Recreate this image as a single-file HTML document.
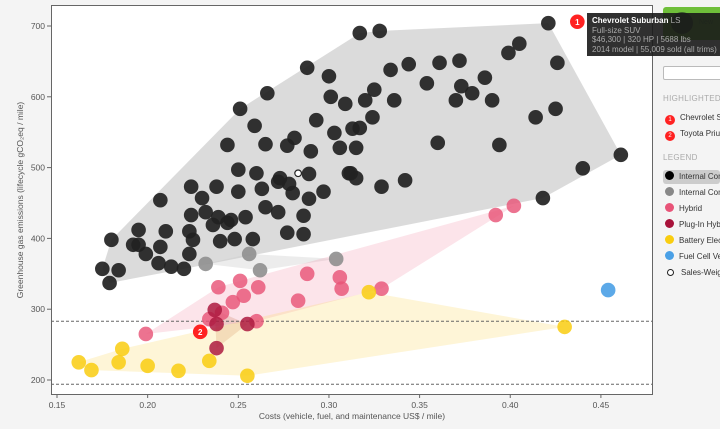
<!DOCTYPE html>
<html><head><meta charset="utf-8"><style>
body{margin:0;background:#f4f4f4;width:720px;height:429px;overflow:hidden;font-family:"Liberation Sans",sans-serif;position:relative}
.hd{position:absolute;left:663px;font-size:8px;color:#aaa;letter-spacing:.3px;white-space:nowrap;overflow:hidden;width:57px}
.li{position:absolute;left:663px;width:57px;height:14px;font-size:8px;color:#333;line-height:14px;white-space:nowrap;overflow:hidden}
.li i{display:inline-block;width:9px;height:9px;border-radius:50%;vertical-align:-1px;margin:0 5px 0 2px}
</style></head><body>
<svg id="chart" width="720" height="429" style="position:absolute;left:0;top:0"></svg>

<div style="position:absolute;left:663px;top:7px;width:60px;height:33px;background:#6fbf3a;border-radius:3px 0 0 3px"><div style="position:absolute;left:8px;top:5px;width:22px;height:22px;border-radius:50%;background:#3a5f2a"></div><span style="position:absolute;left:36px;top:12px;font-size:7px;color:#4d8a30">New</span></div>
<div style="position:absolute;left:663px;top:66px;width:60px;height:12px;background:#fff;border:1px solid #bbb;border-radius:2px"></div>
<div class="hd" style="top:94px">HIGHLIGHTED C</div>
<div class="li" style="top:111px"><i style="background:#f22;width:10px;height:10px;color:#fff;font-size:6px;text-align:center;line-height:10px;font-style:normal">1</i>Chevrolet Suburban</div>
<div class="li" style="top:127px"><i style="background:#f22;width:10px;height:10px;color:#fff;font-size:6px;text-align:center;line-height:10px;font-style:normal">2</i>Toyota Prius</div>
<div class="hd" style="top:153px">LEGEND</div>
<div class="li" style="top:170px;background:#ccc;border-radius:3px"><i style="background:#000"></i>Internal Combustion</div>
<div class="li" style="top:186px"><i style="background:#888"></i>Internal Combustion</div>
<div class="li" style="top:202px"><i style="background:#e85478"></i>Hybrid</div>
<div class="li" style="top:218px"><i style="background:#a8123a"></i>Plug-In Hybrid</div>
<div class="li" style="top:234px"><i style="background:#f9cd10"></i>Battery Electric</div>
<div class="li" style="top:250px"><i style="background:#4aa0e6"></i>Fuel Cell Vehicle</div>
<div class="li" style="top:266px"><i style="background:#fff;border:1.5px solid #222;width:5px;height:5px;margin-left:4px;margin-right:7px"></i>Sales-Weighted</div>

<div style="position:absolute;left:587px;top:13px;width:140px;height:43px;background:rgba(25,25,25,.9);font-size:8px;line-height:9.5px;color:#aaa;padding:3px 0 0 5px;box-sizing:border-box;white-space:nowrap">
<div><b style="color:#fff">Chevrolet Suburban</b> LS</div><div>Full-size SUV</div><div>$46,300 | 320 HP | 5688 lbs</div><div>2014 model | 55,009 sold (all trims)</div></div>

<script>
const xTicks=[0.15,0.20,0.25,0.30,0.35,0.40,0.45];
const yTicks=[200,300,400,500,600,700];
const refLines=[283,194];
const iceX=[0.250,0.260,0.273,0.272,0.278,0.280,0.289,0.311,0.224,0.238,0.230,0.250,0.263,0.207,0.289,0.297,0.265,0.272,0.286,0.224,0.232,0.239,0.236,0.244,0.246,0.254,0.195,0.210,0.223,0.225,0.240,0.248,0.258,0.277,0.286,0.180,0.192,0.195,0.207,0.199,0.223,0.206,0.213,0.220,0.175,0.184,0.179,0.317,0.328,0.288,0.300,0.334,0.344,0.361,0.372,0.266,0.301,0.309,0.320,0.325,0.336,0.354,0.373,0.370,0.379,0.386,0.390,0.251,0.259,0.293,0.324,0.303,0.313,0.317,0.244,0.265,0.281,0.277,0.290,0.306,0.315,0.360,0.312,0.315,0.342,0.421,0.405,0.399,0.426,0.414,0.425,0.394,0.461,0.440,0.418,0.329];
const iceY=[497,492,485,480,477,464,491,492,473,473,457,466,470,454,456,466,444,437,432,433,437,430,419,422,426,430,412,410,410,398,396,399,399,408,406,398,391,391,388,378,378,365,360,357,357,355,337,690,693,641,629,638,646,648,651,605,600,590,595,610,595,619,615,595,605,627,595,583,559,567,571,549,555,556,532,533,542,531,523,528,528,535,492,485,482,704,675,662,648,571,583,532,518,499,457,473];
const grayX=[0.232,0.256,0.262,0.304];
const grayY=[364,378,355,371];
const hybX=[0.239,0.251,0.261,0.253,0.247,0.241,0.234,0.260,0.283,0.288,0.199,0.306,0.307,0.329,0.392,0.402];
const hybY=[331,340,331,319,310,295,286,283,312,350,265,345,329,329,433,446];
const phevX=[0.237,0.238,0.255,0.238];
const phevY=[299,279,279,245];
const bevX=[0.162,0.169,0.186,0.184,0.200,0.217,0.234,0.255,0.322,0.430];
const bevY=[225,214,244,225,220,213,227,206,324,275];
const fcvX=[0.454];
const fcvY=[327];
const hlX=[0.437,0.229];
const hlY=[706,268];
const hlLabels=["1","2"];
const swX=[0.283];
const swY=[492];

const L=51,R=652,T=5,B=394;
const sx=v=>57+(v-0.15)*1813;
const sy=v=>380-(v-200)*0.708;
const NS="http://www.w3.org/2000/svg";
const svg=document.getElementById('chart');
function mk(t,a,p){const e=document.createElementNS(NS,t);for(const k in a)e.setAttribute(k,a[k]);(p||svg).appendChild(e);return e;}
const bg=mk('rect',{x:L,y:T,width:R-L,height:B-T,fill:'#fff'});


function hull(xs,ys){let p=xs.map((x,i)=>[sx(x),sy(ys[i])]).sort((a,b)=>a[0]-b[0]||a[1]-b[1]);
const cr=(o,a,b)=>(a[0]-o[0])*(b[1]-o[1])-(a[1]-o[1])*(b[0]-o[0]);
const lo=[],up=[];for(const q of p){while(lo.length>1&&cr(lo[lo.length-2],lo[lo.length-1],q)<=0)lo.pop();lo.push(q);}
for(const q of p.slice().reverse()){while(up.length>1&&cr(up[up.length-2],up[up.length-1],q)<=0)up.pop();up.push(q);}
return lo.slice(0,-1).concat(up.slice(0,-1)).map(q=>q.join(',')).join(' ');}
const groups=[
 ['ice',iceX,iceY,'#222','rgba(190,190,190,0.55)',0.92],
 ['ice-other',grayX,grayY,'#8f8f8f','rgba(200,200,200,0.35)',0.9],
 ['hybrid',hybX,hybY,'#e85478','rgba(240,130,160,0.22)',0.82],
 ['phev',phevX,phevY,'#ad1a40','rgba(200,120,90,0.25)',0.85],
 ['bev',bevX,bevY,'#f9cd10','rgba(250,220,110,0.28)',0.85],
 ['fcv',fcvX,fcvY,'#4aa0e6','none',0.9]];
for(const g of groups){if(g[1].length>2){const h=mk('polygon',{points:hull(g[1],g[2]),fill:g[4]});

}}
for(const v of refLines){const l=mk('line',{x1:L,x2:R,y1:sy(v),y2:sy(v),stroke:'#666','stroke-dasharray':'3,2','stroke-width':1});

}
for(const g of groups){g[1].forEach((x,i)=>{const c=mk('circle',{cx:sx(x),cy:sy(g[2][i]),r:7.3,fill:g[3],'fill-opacity':g[5]});

});}
swX.forEach((x,i)=>{const c=mk('circle',{cx:sx(x),cy:sy(swY[i]),r:3.3,fill:'#fff',stroke:'#222','stroke-width':1.2});

});
hlX.forEach((x,i)=>{const c=mk('circle',{cx:sx(x),cy:sy(hlY[i]),r:7.3,fill:'#f22'});


const t=mk('text',{x:sx(x),y:sy(hlY[i])+3,'text-anchor':'middle','font-size':8,fill:'#fff','font-weight':'bold'});t.textContent=hlLabels[i];

});
const fr=mk('rect',{x:L+.5,y:T+.5,width:R-L,height:B-T,fill:'none',stroke:'#666'});


for(const v of xTicks){mk('line',{x1:sx(v),x2:sx(v),y1:B,y2:B+4,stroke:'#666'});
const t=mk('text',{x:sx(v),y:B+14,'text-anchor':'middle','font-size':8.5,fill:'#555'});t.textContent=v.toFixed(2);

}
for(const v of yTicks){mk('line',{x1:L-4,x2:L,y1:sy(v),y2:sy(v),stroke:'#666'});
const t=mk('text',{x:L-6,y:sy(v)+3,'text-anchor':'end','font-size':8.5,fill:'#555'});t.textContent=v;

}
const xt=mk('text',{x:352,y:419,'text-anchor':'middle','font-size':8.5,fill:'#555'});xt.textContent='Costs (vehicle, fuel, and maintenance US$ / mile)';


const yt=mk('text',{x:0,y:0,'text-anchor':'middle','font-size':8.5,fill:'#555',transform:'translate(23,200) rotate(-90)'});yt.textContent='Greenhouse gas emissions (lifecycle gCO\u2082eq / mile)';


</script>
</body></html>
